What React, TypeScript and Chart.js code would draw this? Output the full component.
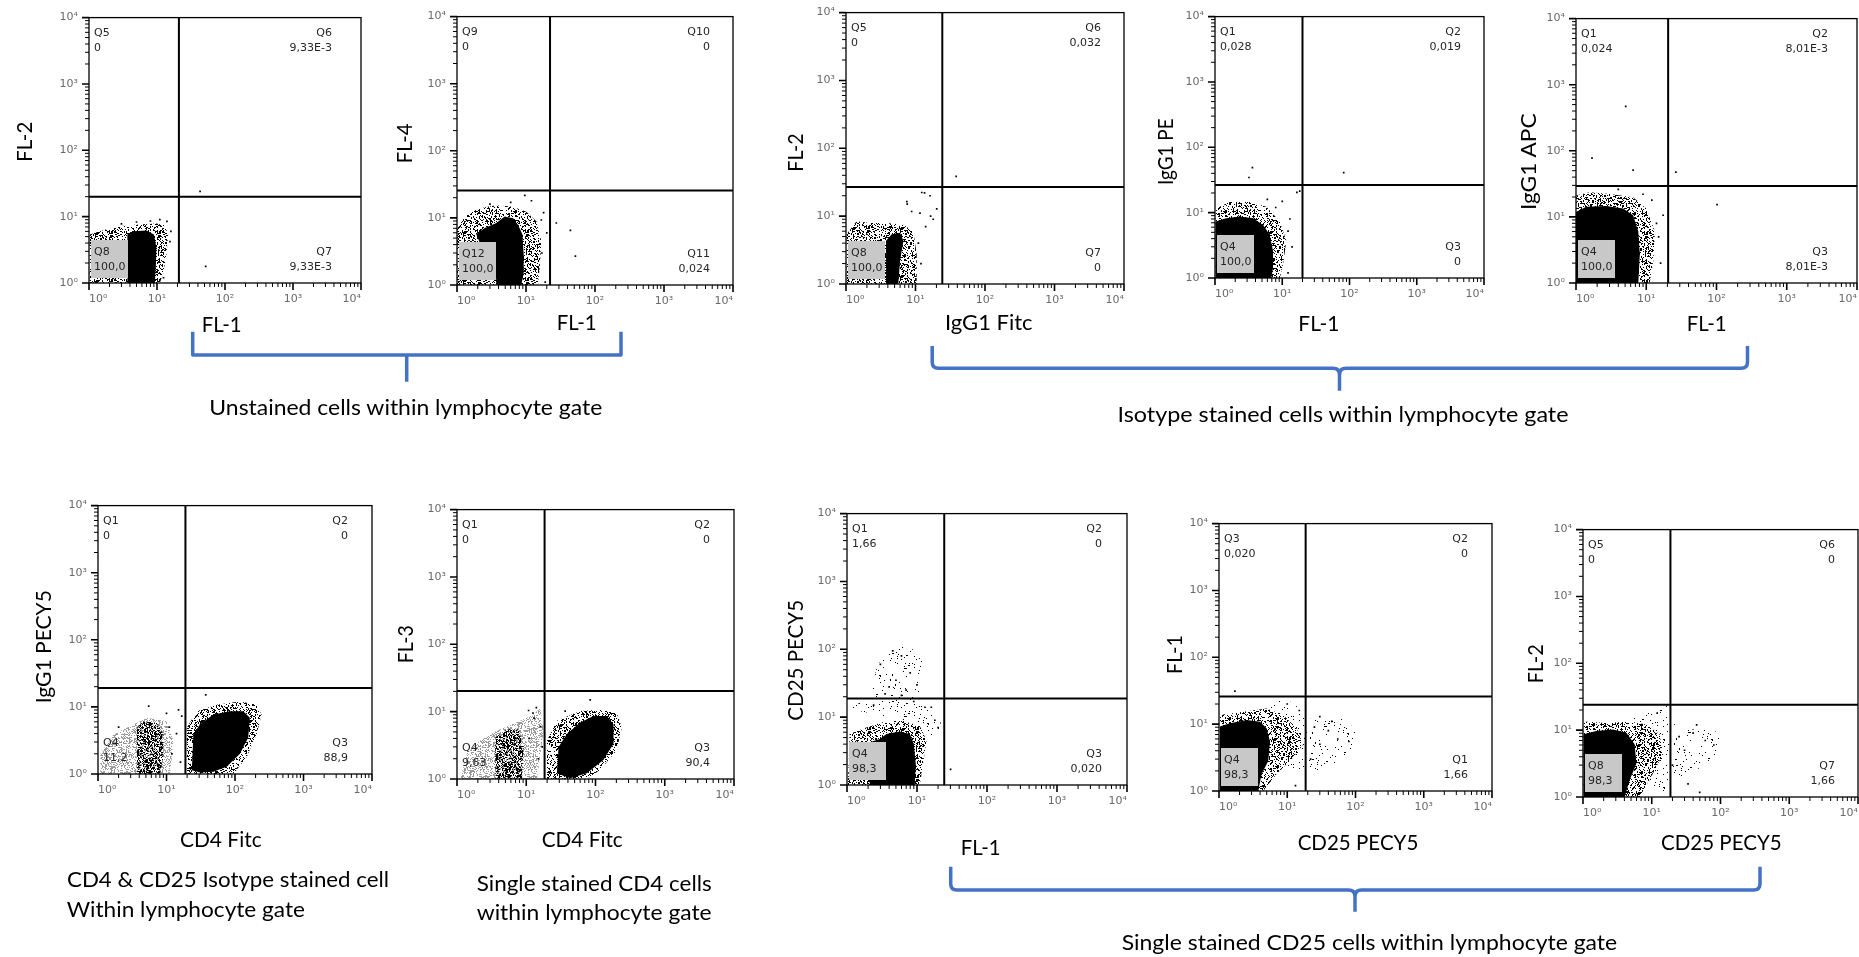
import React, { useEffect, useRef } from "react";
import { Chart, registerables } from "chart.js";

Chart.register(...registerables);

type Pt = [number, number];

// ---------- axis ticks ----------
const TICK_VALUES = [1, 10, 100, 1000, 10000];
const TICK_LABELS = ["10⁰", "10¹", "10²", "10³", "10⁴"];
const MINOR_STEPS = [2, 3, 4, 5, 6, 7, 8, 9];

// ---------- axis titles ----------
const X_TITLES = ["FL-1", "FL-1", "IgG1 Fitc", "FL-1", "FL-1", "CD4 Fitc", "CD4 Fitc", "FL-1", "CD25 PECY5", "CD25 PECY5"];
const Y_TITLES = ["FL-2", "FL-4", "FL-2", "IgG1 PE", "IgG1 APC", "IgG1 PECY5", "FL-3", "CD25 PECY5", "FL-1", "FL-2"];

// ---------- captions ----------
const CAPTIONS = [
  "Unstained cells within lymphocyte gate",
  "Isotype stained cells within lymphocyte gate",
  "CD4 & CD25 Isotype stained cell",
  "Within lymphocyte gate",
  "Single stained CD4 cells",
  "within lymphocyte gate",
  "Single stained CD25 cells within lymphocyte gate",
];

// ---------- quadrant gates ----------
const GATE_X = [21, 22.3, 24.3, 20, 20.5, 18.9, 18.4, 24.5, 18.6, 18.7];
const GATE_Y = [20, 25.7, 27, 26.5, 29.3, 19.1, 20.3, 18.8, 26, 24];

// ---------- quadrant statistics (top-left, top-right, bottom-right, bottom-left) ----------
const STATS_1 = [["Q5", "0"], ["Q6", "9,33E-3"], ["Q7", "9,33E-3"], ["Q8", "100,0"]];
const STATS_2 = [["Q9", "0"], ["Q10", "0"], ["Q11", "0,024"], ["Q12", "100,0"]];
const STATS_3 = [["Q5", "0"], ["Q6", "0,032"], ["Q7", "0"], ["Q8", "100,0"]];
const STATS_4 = [["Q1", "0,028"], ["Q2", "0,019"], ["Q3", "0"], ["Q4", "100,0"]];
const STATS_5 = [["Q1", "0,024"], ["Q2", "8,01E-3"], ["Q3", "8,01E-3"], ["Q4", "100,0"]];
const STATS_6 = [["Q1", "0"], ["Q2", "0"], ["Q3", "88,9"], ["Q4", "11,2"]];
const STATS_7 = [["Q1", "0"], ["Q2", "0"], ["Q3", "90,4"], ["Q4", "9,63"]];
const STATS_8 = [["Q1", "1,66"], ["Q2", "0"], ["Q3", "0,020"], ["Q4", "98,3"]];
const STATS_9 = [["Q3", "0,020"], ["Q2", "0"], ["Q1", "1,66"], ["Q4", "98,3"]];
const STATS_10 = [["Q5", "0"], ["Q6", "0"], ["Q7", "1,66"], ["Q8", "98,3"]];

// ---------- event populations (outline of dense core, halo, sparse zones, single events) ----------
const CORE_1: Pt[] = [[3.67, 1], [3.67, 5.4], [4.45, 6.0], [7.0, 6.2], [9.0, 5.4], [9.8, 3.4], [9.6, 1.72], [9.3, 1]];
const HALO_1: Pt[] = [[1.02, 1], [1.02, 5.4], [1.44, 6.0], [2.02, 6.7], [3.55, 7.4], [6.25, 7.7], [9.8, 7.9], [13, 7.4], [14.6, 5.4], [13.8, 2.7], [12.3, 1.37], [11, 1]];
const DOTS_1: Pt[] = [[43, 24], [52, 1.78], [14, 8.5], [16, 6], [11, 9], [15.5, 4.2], [12.5, 1.2], [3, 7.8], [5, 8.3], [8, 8.6]];

const CORE_2: Pt[] = [[3.72, 1], [3.5, 3.83], [2.13, 4.3], [1.9, 5.7], [2.52, 7.1], [3.72, 8.4], [4.9, 10.5], [6.5, 9.9], [7.65, 7.9], [8.85, 5.7], [9.25, 2.9], [9.25, 1.48], [8.55, 1]];
const HALO_2: Pt[] = [[1, 1], [1, 7.1], [1.37, 11.1], [2.13, 13.9], [3.72, 15.5], [6.5, 14.7], [10.1, 12.4], [14.1, 8.9], [16.7, 4.5], [15.8, 1.85], [14.9, 1]];
const DOTS_2: Pt[] = [[27.5, 8.4], [44, 6.5], [52, 2.7], [9.6, 21.7], [16.7, 9.3], [18, 12], [20, 6], [12, 18], [6, 17], [3, 16], [19, 1.1], [17, 3]];

const CORE_3: Pt[] = [[3.77, 1], [3.77, 4.33], [4.54, 5.4], [6.0, 5.7], [6.7, 4.33], [6.0, 2.22], [5.66, 1]];
const HALO_3: Pt[] = [[1.02, 1], [1.02, 5.4], [1.42, 8.4], [2.2, 7.95], [3.8, 7.95], [6.7, 7.5], [9.3, 6.0], [10.4, 2.77], [10.4, 1]];
const DOTS_3: Pt[] = [[12.3, 22.3], [13.5, 22], [16.2, 20], [20.2, 12.8], [16.5, 10], [11.6, 11.1], [7.5, 16.4], [7.6, 15], [8.8, 11.7], [38.5, 38.5], [18, 9], [14, 7], [11, 4], [12, 2]];

const CORE_4: Pt[] = [[1.02, 1], [1.02, 7.3], [1.47, 8.2], [2.33, 8.7], [3.68, 8.2], [5.2, 6.5], [6.5, 4.6], [7.3, 2.6], [7.3, 1.46], [6.9, 1]];
const HALO_4: Pt[] = [[1.02, 1], [1.02, 11.6], [1.65, 14.6], [3.28, 14.6], [5.8, 12.3], [9.2, 7.3], [11.5, 3.67], [10.3, 1.64], [9.2, 1]];
const DOTS_4: Pt[] = [[3.6, 48.8], [3.2, 34.5], [82, 41], [18.2, 21.3], [16.5, 20.5], [10, 14.9], [12.2, 5.2], [12.2, 1.2], [13, 8], [6, 16], [8, 12], [14, 3]];

const CORE_5: Pt[] = [[1, 1], [1, 11.9], [1.4, 14.2], [2.71, 14.6], [4.7, 13.4], [6.5, 10.6], [7.7, 6.0], [8.1, 2.72], [7.7, 1]];
const HALO_5: Pt[] = [[1, 1], [1, 21], [1.57, 23.6], [3.02, 22.3], [6.5, 19.9], [10, 13.4], [13.3, 6.0], [12.6, 2.17], [11.2, 1]];
const DOTS_5: Pt[] = [[5.1, 470], [1.69, 77.7], [6.5, 51], [26.4, 47.7], [102, 15.3], [17.4, 10.6], [15, 5], [14, 8], [12, 18], [9, 22], [4, 26], [16, 2]];

const CORE_6: Pt[] = [[23.4, 1.14], [24.7, 3.92], [30.9, 5.5], [48.3, 7.7], [84.6, 8.6], [132, 8.6], [165, 6.9], [156, 3.5], [118, 2.0], [75.6, 1.28], [48.3, 1.08], [30.9, 1.05]];
const HALO_6: Pt[] = [[19.8, 1], [19.8, 4.9], [27.7, 8.6], [54, 10.8], [118, 12.0], [207, 10.8], [244, 7.7], [207, 3.92], [148, 1.79], [94.6, 1]];
const MID_6: Pt[] = [[3.7, 1], [3.7, 4.9], [4.62, 6.1], [7.2, 5.8], [9.0, 3.92], [9.0, 1.79], [8.1, 1]];
const LIGHT_6: Pt[] = [[1.08, 1], [1.08, 1.99], [1.69, 3.92], [2.64, 4.9], [5.2, 6.9], [10.1, 6.1], [12.6, 3.14], [11.3, 1]];
const DOTS_6: Pt[] = [[37.4, 15.1], [5.5, 10.3], [16.7, 7.3], [14, 4], [12, 2], [16, 1.5], [11, 5], [2, 5], [15, 9], [10, 8]];

const CORE_7: Pt[] = [[27.7, 1.22], [29.3, 2.98], [38.6, 4.66], [60, 6.9], [93.5, 8.6], [146, 8.6], [182, 6.5], [182, 3.33], [130, 1.91], [75, 1.22], [43.1, 1.03]];
const HALO_7: Pt[] = [[19.9, 1], [19.9, 3.73], [27.7, 7.3], [60, 10.2], [117, 10.7], [203, 9.6], [240, 5.8], [203, 2.67], [117, 1.37], [75, 1]];
const MID_7: Pt[] = [[3.57, 1], [3.57, 4.17], [5.26, 5.5], [7.75, 5.5], [9.2, 3.0], [8.7, 1]];
const LIGHT_7: Pt[] = [[1.12, 1], [1.39, 2.39], [2.17, 3.73], [3.77, 5.2], [8.2, 7.3], [12.8, 9.1], [15.9, 11.4], [17.8, 5.2], [14.3, 1]];
const DOTS_7: Pt[] = [[83.8, 15], [10.8, 10.4], [12.5, 9.5], [13, 8], [14, 11.5], [36.5, 10.2], [16, 6], [17, 3], [15, 2], [11, 4]];

const CORE_8: Pt[] = [[2.11, 1], [2.11, 4.27], [2.94, 4.77], [3.66, 5.63], [5.68, 6.15], [7.9, 5.63], [9.0, 4.04], [9.6, 2.08], [9.3, 1]];
const HALO_8: Pt[] = [[1.03, 1], [1.09, 5.63], [1.89, 7.03], [3.66, 8.8], [6.34, 8.8], [11, 7.43], [13.7, 4.5], [12.2, 2.08], [11, 1]];
const SPARSE_8: Pt[] = [[2.11, 19.1], [2.63, 51.7], [3.66, 100], [7.9, 112], [12.2, 64.6], [11, 26.6], [15.3, 12.2], [21.2, 11], [22.4, 5.63], [15.3, 5.04], [11, 7.03], [5.68, 8.8], [2.63, 11], [1.52, 12.2], [1.09, 13.7]];
const DOTS_8: Pt[] = [[30.2, 1.7], [4.5, 95], [6, 80], [3, 60], [8, 45], [5, 35], [10, 30], [4, 28], [7, 25], [3.5, 22], [6, 21], [9, 17], [2.4, 15], [13, 14], [18, 9], [20, 7], [16, 14]];

const CORE_9: Pt[] = [[1.03, 1], [1.03, 9.2], [1.45, 10.3], [2.54, 11.5], [3.98, 10.9], [4.98, 8.7], [5.58, 5.55], [5.27, 2.82], [4.21, 1.8], [3.76, 1]];
const HALO_9: Pt[] = [[1.03, 1], [1.03, 13.7], [2.27, 15.3], [4.98, 17.1], [8.74, 13.7], [13.7, 8.7], [17.1, 4.96], [12.2, 3.16], [6.98, 1.8], [4.45, 1]];
const SPARSE_9: Pt[] = [[4.45, 17.1], [6.98, 22.7], [12.2, 21.5], [19.2, 12.2], [33.6, 11.5], [66, 11.9], [109, 7.8], [97.8, 3.96], [52.7, 2.67], [21.5, 1.8], [10.9, 2.01], [6.98, 3.16]];
const DOTS_9: Pt[] = [[1.71, 31.1], [13.2, 1.2], [25, 9], [40, 8], [55, 6], [30, 5], [22, 3], [80, 5.5], [45, 11], [30, 13], [10, 20], [15, 16]];

const CORE_10: Pt[] = [[1.02, 1], [1.02, 8.65], [1.56, 9.67], [2.73, 10.2], [4.27, 9.14], [5.64, 6.17], [5.97, 3.14], [4.77, 1.79], [4.04, 1]];
const HALO_10: Pt[] = [[1.02, 1], [1.02, 13.5], [2.18, 12.8], [4.77, 13.5], [8.34, 12.1], [13, 8.65], [14.6, 4.4], [10.4, 2.24], [6.67, 1]];
const SPARSE_10: Pt[] = [[5.34, 17], [10.4, 21.2], [16.3, 23.8], [22.8, 10.8], [39.8, 10.2], [69.5, 10.8], [109, 8.17], [97.3, 4.4], [52.6, 2.81], [25.5, 1.79], [14.6, 1.15], [8.34, 1.79]];
const DOTS_10: Pt[] = [[49.8, 1.17], [33.7, 1.57], [25, 8], [40, 9], [60, 7], [30, 5], [20, 3], [80, 6], [45, 12], [12, 18]];

// ---------- layout (page pixels) ----------
const PLOT_RECTS = [
  [89, 12, 361, 283], [457, 11, 733, 285], [846, 7, 1124, 284], [1215, 11, 1484, 278], [1576, 13, 1857, 283],
  [98, 500, 372, 774], [457, 504, 734, 779], [847, 508, 1127, 785], [1219, 518, 1492, 791], [1583, 524, 1858, 797],
];
const LABEL_INSET = [29, 23, 23, 23, 29, 24, 24, 25, 24, 23];
const HAS_BOX = [true, true, true, true, true, false, false, true, true, true];
const X_TITLE_POS = [
  [221.7, 331.7, 40], [576.7, 330, 40], [988.8, 330, 87.7], [1318.8, 330.7, 41], [1706.7, 330.7, 40],
  [220.8, 846.7, 81.7], [582.2, 846.7, 81], [980.7, 855, 40], [1358, 850, 120.7], [1721.3, 850, 120.7],
];
const Y_TITLE_POS = [
  [31.7, 141.7, 40], [411.7, 143.3, 40], [803.3, 152.5, 38.3], [1173.3, 151.7, 66.7], [1536, 161.7, 96.7],
  [50.7, 646.7, 113.3], [413.3, 644.2, 38.3], [802.7, 660.3, 120.7], [1181.7, 654.5, 39], [1542.7, 663.8, 39],
];
const CAPTION_POS = [
  [209.3, 415, 393], [1117.5, 422, 451], [67, 887.3, 322], [66.7, 917, 238.3],
  [476.7, 890.7, 235], [476.7, 920, 235], [1121.7, 950, 495.5],
];
const BRACKETS = [
  "M192.7 331.7 V355 H621 V331.7 M406.7 355 V381.7",
  "M932.2 346 V362 Q932.2 368.3 938.5 368.3 H1333 Q1339.5 368.3 1339.5 375 V390.7 M1339.5 375 Q1339.5 368.3 1346 368.3 H1741 Q1747.5 368.3 1747.5 362 V346",
  "M950.7 866.7 V884 Q950.7 890 957 890 H1348.5 Q1355 890 1355 896.5 V911.7 M1355 896.5 Q1355 890 1361.5 890 H1753.5 Q1760 890 1760 884 V866.7",
];

type PlotDef = {
  stats: string[][];
  core: Pt[];
  halo: Pt[];
  mid?: Pt[];
  light?: Pt[];
  sparse?: Pt[];
  dots: Pt[];
};

const PLOTS: PlotDef[] = [
  { stats: STATS_1, core: CORE_1, halo: HALO_1, dots: DOTS_1 },
  { stats: STATS_2, core: CORE_2, halo: HALO_2, dots: DOTS_2 },
  { stats: STATS_3, core: CORE_3, halo: HALO_3, dots: DOTS_3 },
  { stats: STATS_4, core: CORE_4, halo: HALO_4, dots: DOTS_4 },
  { stats: STATS_5, core: CORE_5, halo: HALO_5, dots: DOTS_5 },
  { stats: STATS_6, core: CORE_6, halo: HALO_6, mid: MID_6, light: LIGHT_6, dots: DOTS_6 },
  { stats: STATS_7, core: CORE_7, halo: HALO_7, mid: MID_7, light: LIGHT_7, dots: DOTS_7 },
  { stats: STATS_8, core: CORE_8, halo: HALO_8, sparse: SPARSE_8, dots: DOTS_8 },
  { stats: STATS_9, core: CORE_9, halo: HALO_9, sparse: SPARSE_9, dots: DOTS_9 },
  { stats: STATS_10, core: CORE_10, halo: HALO_10, sparse: SPARSE_10, dots: DOTS_10 },
];

const PAD_TOP = 12;
const PAD_RIGHT = 16;
const AXIS_W = 60;
const AXIS_H = 30;

// speckle texture (a fill style, not data): fixed hash of the pixel position
function speckle(x: number, y: number, salt: number): number {
  let h = Math.imul(x + 31 * salt, 374761393) ^ Math.imul(y + 17 * salt, 668265263);
  h = Math.imul(h ^ (h >>> 13), 1274126177);
  h = h ^ (h >>> 16);
  return (h >>> 0) % 1000;
}

function makeTexture(density: number, color: string, salt: number): CanvasPattern | string {
  const size = 48;
  const c = document.createElement("canvas");
  c.width = size;
  c.height = size;
  const g = c.getContext("2d");
  if (!g) return color;
  g.fillStyle = color;
  for (let y = 0; y < size; y++) {
    for (let x = 0; x < size; x++) {
      if (speckle(x, y, salt) < density) g.fillRect(x, y, 1, 1);
    }
  }
  return g.createPattern(c, "repeat") || color;
}

function makeDecor(i: number) {
  return {
    id: "flowDecor" + i,
    afterDatasetsDraw(chart: any) {
      const { ctx, chartArea: a, scales } = chart;
      const xs = scales.x;
      const ys = scales.y;
      const st = PLOTS[i].stats;
      ctx.save();
      if (HAS_BOX[i]) {
        ctx.fillStyle = "#c8c8c8";
        ctx.fillRect(a.left + 2, a.bottom - 43, 37, 38);
      }
      // gates
      const gx = xs.getPixelForValue(GATE_X[i]);
      const gy = ys.getPixelForValue(GATE_Y[i]);
      ctx.strokeStyle = "#000";
      ctx.lineWidth = 2;
      ctx.beginPath();
      ctx.moveTo(gx, a.top);
      ctx.lineTo(gx, a.bottom);
      ctx.moveTo(a.left, gy);
      ctx.lineTo(a.right, gy);
      ctx.stroke();
      // frame
      ctx.lineWidth = 1.3;
      ctx.strokeRect(a.left, a.top, a.right - a.left, a.bottom - a.top);
      // tick marks
      const drawTick = (v: number, major: boolean) => {
        const len = major ? 7 : 4;
        ctx.lineWidth = major ? 1.6 : 1;
        const px = xs.getPixelForValue(v);
        const py = ys.getPixelForValue(v);
        ctx.beginPath();
        ctx.moveTo(px, a.bottom);
        ctx.lineTo(px, a.bottom + len);
        ctx.moveTo(a.left, py);
        ctx.lineTo(a.left - len, py);
        ctx.stroke();
      };
      TICK_VALUES.forEach((v, k) => {
        drawTick(v, true);
        if (k < TICK_VALUES.length - 1) MINOR_STEPS.forEach((m) => drawTick(v * m, false));
      });
      // quadrant statistics
      ctx.font = '11px "DejaVu Sans"';
      ctx.fillStyle = "#262626";
      ctx.textBaseline = "middle";
      ctx.textAlign = "left";
      const lx = a.left + 5;
      ctx.fillText(st[0][0], lx, a.top + 16);
      ctx.fillText(st[0][1], lx, a.top + 31);
      ctx.fillText(st[3][0], lx, a.bottom - 31);
      ctx.fillText(st[3][1], lx, a.bottom - 16);
      ctx.textAlign = "right";
      const rx = a.right - LABEL_INSET[i];
      ctx.fillText(st[1][0], rx, a.top + 16);
      ctx.fillText(st[1][1], rx, a.top + 31);
      ctx.fillText(st[2][0], rx, a.bottom - 31);
      ctx.fillText(st[2][1], rx, a.bottom - 16);
      ctx.restore();
    },
  };
}

function axis(kind: "x" | "y") {
  return {
    type: "logarithmic",
    min: 1,
    max: 10000,
    grid: { display: false, drawTicks: false },
    border: { display: false },
    ticks: {
      autoSkip: false,
      maxRotation: 0,
      minRotation: 0,
      padding: kind === "x" ? 10 : 11,
      align: kind === "x" ? "inner" : "center",
      color: "#6a6a6a",
      font: { family: "DejaVu Sans", size: 11 },
      callback: (v: any) => {
        const idx = TICK_VALUES.indexOf(Number(v));
        return idx >= 0 ? TICK_LABELS[idx] : "";
      },
    },
    afterBuildTicks: (s: any) => {
      s.ticks = TICK_VALUES.map((v) => ({ value: v }));
    },
    afterFit: (s: any) => {
      if (kind === "x") s.height = AXIS_H;
      else s.width = AXIS_W;
    },
  };
}

function FlowPlot({ index }: { index: number }) {
  const ref = useRef<HTMLCanvasElement>(null);
  const [L, T, R, B] = PLOT_RECTS[index];
  const w = R - L + AXIS_W + PAD_RIGHT;
  const h = B - T + PAD_TOP + AXIS_H;

  useEffect(() => {
    const canvas = ref.current;
    if (!canvas) return;
    const p = PLOTS[index];
    const pats = {
      halo: makeTexture(330, "#000", 1),
      mid: makeTexture(480, "#000", 2),
      sparse: makeTexture(30, "#000", 3),
      light: makeTexture(380, "#9a9a9a", 4),
    };
    const toXY = (arr: Pt[]) => arr.map(([x, y]) => ({ x, y }));
    const poly = (arr: Pt[], bg: any, order: number) => ({
      type: "line",
      data: toXY(arr),
      borderWidth: 0,
      borderColor: "rgba(0,0,0,0)",
      pointRadius: 0,
      fill: "shape",
      backgroundColor: bg,
      tension: 0,
      order,
    });
    const datasets: any[] = [
      {
        type: "scatter",
        data: toXY(p.dots),
        pointRadius: 1.2,
        pointStyle: "rect",
        backgroundColor: "#000",
        borderWidth: 0,
        order: 0,
      },
      poly(p.core, "#000", 1),
    ];
    if (p.mid) datasets.push(poly(p.mid, pats.mid, 2));
    if (p.light) datasets.push(poly(p.light, pats.light, 3));
    datasets.push(poly(p.halo, pats.halo, 4));
    if (p.sparse) datasets.push(poly(p.sparse, pats.sparse, 5));

    const chart = new Chart(canvas, {
      type: "scatter",
      data: { datasets },
      options: {
        responsive: false,
        animation: false,
        devicePixelRatio: 1,
        events: [],
        layout: { padding: { left: 0, top: PAD_TOP, right: PAD_RIGHT, bottom: 0 } },
        plugins: { legend: { display: false }, tooltip: { enabled: false } },
        scales: { x: axis("x"), y: axis("y") },
      } as any,
      plugins: [makeDecor(index)],
    } as any);
    return () => chart.destroy();
  }, [index]);

  return (
    <canvas
      ref={ref}
      width={w}
      height={h}
      style={{ position: "absolute", left: L - AXIS_W, top: T - PAD_TOP, width: w, height: h }}
    />
  );
}

const textStyle: React.CSSProperties = { fontFamily: "Lato, 'Open Sans', sans-serif", fontSize: 21, fill: "#000" };

export default function App() {
  return (
    <div
      style={{
        position: "absolute",
        left: 0,
        top: 0,
        width: 1859,
        height: 957,
        overflow: "hidden",
        background: "#fff",
      }}
    >
      {PLOTS.map((_, i) => (
        <FlowPlot key={i} index={i} />
      ))}
      <svg width={1859} height={957} style={{ position: "absolute", left: 0, top: 0 }}>
        {BRACKETS.map((d, i) => (
          <path key={"b" + i} d={d} stroke="#4472C4" strokeWidth={3.5} fill="none" strokeLinejoin="round" />
        ))}
        {X_TITLES.map((t, i) => {
          const [cx, by, tw] = X_TITLE_POS[i];
          return (
            <text key={"x" + i} x={cx - tw / 2} y={by} textLength={tw} lengthAdjust="spacingAndGlyphs" style={textStyle}>
              {t}
            </text>
          );
        })}
        {Y_TITLES.map((t, i) => {
          const [bx, cy, tw] = Y_TITLE_POS[i];
          return (
            <text
              key={"y" + i}
              transform={`translate(${bx} ${cy}) rotate(-90)`}
              x={-tw / 2}
              y={0}
              textLength={tw}
              lengthAdjust="spacingAndGlyphs"
              style={textStyle}
            >
              {t}
            </text>
          );
        })}
        {CAPTIONS.map((t, i) => {
          const [lx, by, tw] = CAPTION_POS[i];
          return (
            <text key={"c" + i} x={lx} y={by} textLength={tw} lengthAdjust="spacingAndGlyphs" style={textStyle}>
              {t}
            </text>
          );
        })}
      </svg>
    </div>
  );
}
